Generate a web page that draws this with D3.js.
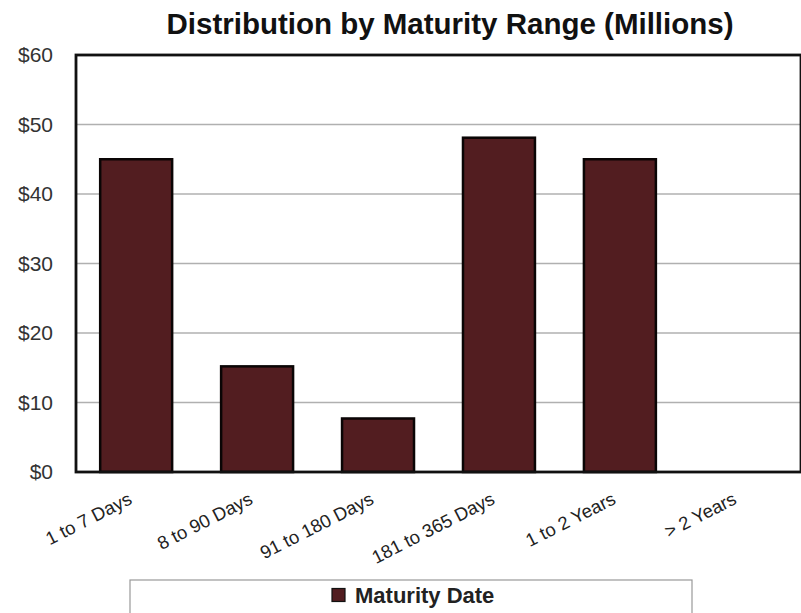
<!DOCTYPE html>
<html>
<head>
<meta charset="utf-8">
<script src="https://cdn.jsdelivr.net/npm/d3@7/dist/d3.min.js"></script>
<style>
  html, body { margin: 0; padding: 0; background: #fff; }
  svg { display: block; font-family: "Liberation Sans", Arial, sans-serif; }
</style>
</head>
<body>
<svg id="chart" width="801" height="613"></svg>
<script>
// Maturity buckets and amounts (millions of dollars)
const categories = ["1 to 7 Days", "8 to 90 Days", "91 to 180 Days", "181 to 365 Days", "1 to 2 Years", "> 2 Years"];
const values = [45, 15.2, 7.7, 48.1, 45, 0];
const yTicks = [0, 10, 20, 30, 40, 50, 60];
const seriesName = "Maturity Date";
const chartTitle = "Distribution by Maturity Range (Millions)";

const svg = d3.select("#chart");
const W = 801, H = 613;
const m = { top: 55, right: 0, bottom: 141, left: 76 };
const plotW = W - m.left - m.right;
const plotH = H - m.top - m.bottom;

const barFill = "#521d20";

const x = d3.scaleBand()
  .domain(categories)
  .range([0, plotW])
  .paddingInner(0.405)
  .paddingOuter(0.2);

const y = d3.scaleLinear().domain([0, 60]).range([plotH, 0]);

// title
svg.append("text")
  .attr("x", 450)
  .attr("y", 34)
  .attr("text-anchor", "middle")
  .attr("font-size", 29.5)
  .attr("font-weight", "bold")
  .attr("fill", "#111")
  .text(chartTitle);

const g = svg.append("g").attr("transform", `translate(${m.left},${m.top})`);

// horizontal gridlines
g.append("g")
  .selectAll("line")
  .data(yTicks.slice(1, -1))
  .join("line")
  .attr("x1", 0).attr("x2", plotW)
  .attr("y1", d => y(d)).attr("y2", d => y(d))
  .attr("stroke", "#b0b0b0")
  .attr("stroke-width", 1.5);

// bars
g.append("g")
  .selectAll("rect")
  .data(categories.map((c, i) => ({ c, v: values[i] })).filter(d => d.v > 0))
  .join("rect")
  .attr("x", d => x(d.c))
  .attr("y", d => y(d.v))
  .attr("width", x.bandwidth())
  .attr("height", d => plotH - y(d.v))
  .attr("fill", barFill)
  .attr("stroke", "#0a0505")
  .attr("stroke-width", 2.5);

// plot frame
g.append("rect")
  .attr("x", 0).attr("y", 0)
  .attr("width", plotW).attr("height", plotH)
  .attr("fill", "none")
  .attr("stroke", "#111")
  .attr("stroke-width", 2.8);

// y axis labels
const yAxis = d3.axisLeft(y)
  .tickValues(yTicks)
  .tickSize(0)
  .tickPadding(23)
  .tickFormat(d => "$" + d);
const yg = g.append("g").call(yAxis);
yg.select(".domain").remove();
yg.selectAll("text")
  .attr("font-size", 21)
  .attr("font-family", "'Liberation Sans', Arial, sans-serif")
  .attr("fill", "#333");

// x axis labels, rotated
const xAxis = d3.axisBottom(x).tickSize(0).tickPadding(0);
const xg = g.append("g").attr("transform", `translate(0,${plotH})`).call(xAxis);
xg.select(".domain").remove();
xg.selectAll("text")
  .attr("font-size", 18.5)
  .attr("font-family", "'Liberation Sans', Arial, sans-serif")
  .attr("fill", "#222")
  .attr("text-anchor", "end")
  .attr("dy", 0)
  .attr("transform", "translate(-3,31) rotate(-27)");

// legend
const lg = svg.append("g");
lg.append("rect")
  .attr("x", 130).attr("y", 580)
  .attr("width", 562).attr("height", 40)
  .attr("fill", "#fff")
  .attr("stroke", "#999")
  .attr("stroke-width", 1.2);
lg.append("rect")
  .attr("x", 332).attr("y", 588.5)
  .attr("width", 13).attr("height", 13)
  .attr("fill", barFill)
  .attr("stroke", "#111")
  .attr("stroke-width", 1.2);
lg.append("text")
  .attr("x", 355).attr("y", 603)
  .attr("font-size", 22)
  .attr("font-weight", "bold")
  .attr("fill", "#222")
  .text(seriesName);
</script>
</body>
</html>
